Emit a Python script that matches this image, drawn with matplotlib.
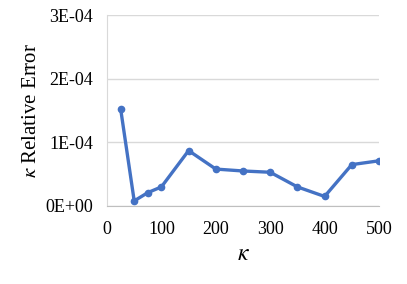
import matplotlib
matplotlib.use("Agg")
import matplotlib.pyplot as plt

kappa = [25, 50, 75, 100, 150, 200, 250, 300, 350, 400, 450, 500]
rel_error = [1.53e-4, 0.08e-4, 0.21e-4, 0.30e-4, 0.87e-4, 0.58e-4, 0.55e-4,
             0.53e-4, 0.30e-4, 0.15e-4, 0.65e-4, 0.71e-4]
x_ticks = [0, 100, 200, 300, 400, 500]
y_ticks = [0, 1e-4, 2e-4, 3e-4]
y_labels = ["0E+00", "1E-04", "2E-04", "3E-04"]

plt.rcParams['font.family'] = ['Liberation Serif', 'DejaVu Serif']
plt.rcParams['mathtext.fontset'] = 'stix'

fig = plt.figure(figsize=(4.07, 2.84), dpi=100)
ax = fig.add_axes([107/407, 1 - 206/284, (379-107)/407, (206-15)/284])

ax.plot(kappa, rel_error, color='#4472C4', lw=2.4, marker='o', ms=4.5,
        solid_capstyle='round', solid_joinstyle='round')

ax.set_xlim(0, 500)
ax.set_ylim(0, 3e-4)
ax.set_xticks(x_ticks)
ax.set_yticks(y_ticks)
ax.set_yticklabels(y_labels)
ax.grid(axis='y', color='#D9D9D9', lw=1)
ax.set_axisbelow(True)
for s in ['top', 'right']:
    ax.spines[s].set_visible(False)
ax.spines['left'].set_color('#D9D9D9')
ax.spines['bottom'].set_color('#BFBFBF')
ax.tick_params(length=0, labelsize=13, colors='#000000')
ax.tick_params(axis='x', pad=11)
ax.tick_params(axis='y', pad=10)

ax.set_ylabel(r'$\kappa$ Relative Error', fontsize=15, labelpad=3)
ax.set_xlabel(r'$\kappa$', fontsize=17, labelpad=4)

fig.savefig('out.png', dpi=100)
